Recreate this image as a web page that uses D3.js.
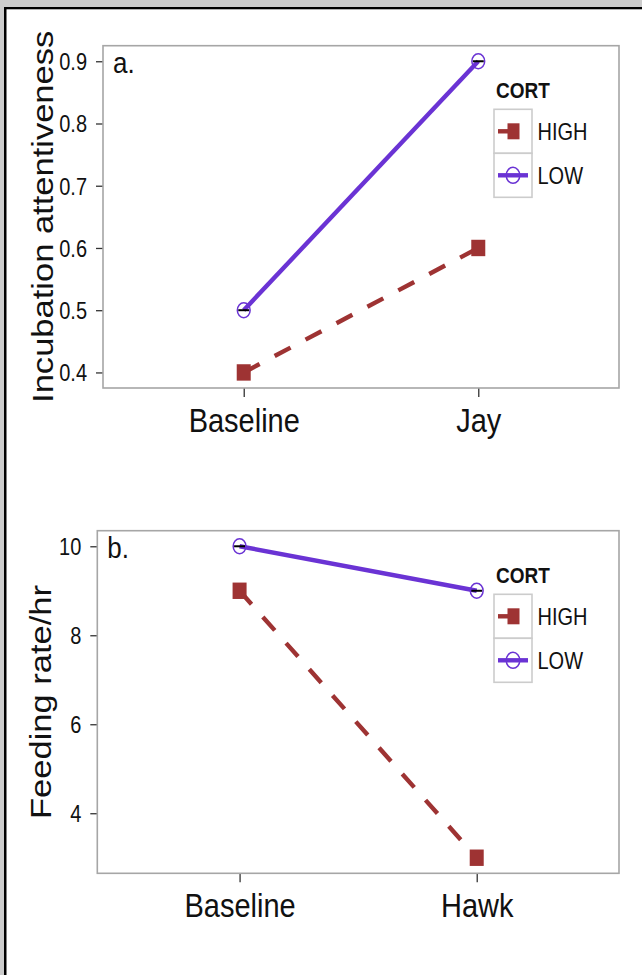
<!DOCTYPE html>
<html lang="en">
<head>
<meta charset="UTF-8">
<title>CORT interaction plots</title>
<script src="https://d3js.org/d3.v7.min.js"></script>
<style>
    body { margin: 0; padding: 0; background: #cccccc; }
    svg { display: block; }
    text { font-family: "Liberation Sans", Arial, Helvetica, sans-serif; fill: #111; }
</style>
</head>
<body>
<svg id="chart"></svg>
<script>
    // data
    const groups = ["HIGH", "LOW"];
    const catsA = ["Baseline", "Jay"];
    const highA = [0.4, 0.6];
    const lowA = [0.5, 0.9];
    const ticksA = [0.4, 0.5, 0.6, 0.7, 0.8, 0.9];

    const catsB = ["Baseline", "Hawk"];
    const highB = [9, 3];
    const lowB = [10, 9];
    const ticksB = [4, 6, 8, 10];

    const W = 642, H = 975;
    const S = 1.17; // picture is stretched vertically
    const colHigh = "#9e3333", colLow = "#6a33d4";

    const svg = d3.select("#chart").attr("width", W).attr("height", H);

    // page frame
    svg.append("rect").attr("width", W).attr("height", H).attr("fill", "#cccccc");
    svg.append("rect").attr("x", 4).attr("y", 7).attr("width", W).attr("height", H)
        .attr("fill", "#000");
    svg.append("rect").attr("x", 6.5).attr("y", 9.3).attr("width", W).attr("height", H)
        .attr("fill", "#fff");

    function stext(g, x, y, str, size, anchor) {
        return g.append("text")
            .attr("transform", `translate(${x},${y}) scale(1,${S})`)
            .attr("text-anchor", anchor || "start")
            .style("font-size", size + "px")
            .text(str);
    }

    function panel(opt) {
        const g = svg.append("g");
        const { left, right, top, bottom } = opt;

        const x = d3.scalePoint().domain(opt.cats).range([left, right]).padding(0.6);
        const lo = d3.min(opt.high.concat(opt.low)), hi = d3.max(opt.high.concat(opt.low));
        const pad = (hi - lo) * 0.05;
        const y = d3.scaleLinear().domain([lo - pad, hi + pad]).range([bottom, top]);

        // axes
        const yAxis = g.append("g").attr("transform", `translate(${left},0)`)
            .call(d3.axisLeft(y).tickValues(opt.ticks).tickSize(7).tickPadding(9)
                .tickFormat(opt.fmt));
        const xAxis = g.append("g").attr("transform", `translate(0,${bottom})`)
            .call(d3.axisBottom(x).tickSize(9));
        [yAxis, xAxis].forEach(a => {
            a.select(".domain").remove();
            a.selectAll(".tick line").attr("stroke", "#333").attr("stroke-width", 1.3);
            a.selectAll(".tick text").attr("fill", "#111");
        });
        yAxis.selectAll(".tick text")
            .style("font-size", "20px").style("font-family", "Liberation Sans, Arial, sans-serif")
            .attr("dy", "0.36em").attr("transform", `scale(1,${S})`);
        xAxis.selectAll(".tick text")
            .style("font-size", "29px").style("font-family", "Liberation Sans, Arial, sans-serif")
            .attr("y", 44 / S).attr("dy", 0).attr("transform", `scale(1,${S})`);

        // panel box
        g.append("rect").attr("x", left).attr("y", top)
            .attr("width", right - left).attr("height", bottom - top)
            .attr("fill", "none").attr("stroke", "#a6a6a6").attr("stroke-width", 1.6);

        // y title
        g.append("text")
            .attr("transform", `translate(${opt.titleX},${(top + bottom) / 2}) scale(1,${S}) rotate(-90)`)
            .attr("text-anchor", "middle")
            .style("font-size", "29.5px")
            .text(opt.title);

        stext(g, left + 10, top + 27.5, opt.tag, 26);

        const line = d3.line().x(d => x(d[0])).y(d => y(d[1]));
        const high = opt.cats.map((c, i) => [c, opt.high[i]]);
        const low = opt.cats.map((c, i) => [c, opt.low[i]]);

        g.append("path").datum(high).attr("d", line).attr("fill", "none")
            .attr("stroke", colHigh).attr("stroke-width", 4.4).attr("stroke-dasharray", "18,17");
        g.append("path").datum(low).attr("d", line).attr("fill", "none")
            .attr("stroke", colLow).attr("stroke-width", 4.4);

        // small black dashes at each point
        g.selectAll(".dash").data(high.concat(low)).join("line")
            .attr("x1", d => x(d[0]) - 5.5).attr("x2", d => x(d[0]) + 5.5)
            .attr("y1", d => y(d[1])).attr("y2", d => y(d[1]))
            .attr("stroke", "#000").attr("stroke-width", 2);

        g.selectAll(".sq").data(high).join("rect")
            .attr("x", d => x(d[0]) - 7).attr("y", d => y(d[1]) - 8.2)
            .attr("width", 14).attr("height", 16.4).attr("fill", colHigh);
        g.selectAll(".ci").data(low).join("ellipse")
            .attr("cx", d => x(d[0])).attr("cy", d => y(d[1]))
            .attr("rx", 6.4).attr("ry", 6.4 * S)
            .attr("fill", "none").attr("stroke", colLow).attr("stroke-width", 1.5);

        // legend
        const lx = 494, ly = top + 63.6, kw = 38, kh = 44;
        stext(g, 496, top + 52.6, "CORT", 19, "start").style("font-weight", "bold");
        groups.forEach((grp, i) => {
            const ky = ly + i * kh;
            g.append("rect").attr("x", lx).attr("y", ky).attr("width", kw).attr("height", kh)
                .attr("fill", "#fff").attr("stroke", "#cccccc").attr("stroke-width", 1.6);
            const cy = ky + kh / 2;
            const ln = g.append("line").attr("x1", lx + 4).attr("x2", lx + kw - 4)
                .attr("y1", cy).attr("y2", cy).attr("stroke-width", 4.4);
            if (grp === "HIGH") {
                ln.attr("stroke", colHigh).attr("stroke-dasharray", "18,17");
                g.append("rect").attr("x", lx + kw / 2 - 5.5).attr("y", cy - 8)
                    .attr("width", 12).attr("height", 16).attr("fill", colHigh);
            } else {
                ln.attr("stroke", colLow);
                g.append("ellipse").attr("cx", lx + kw / 2).attr("cy", cy)
                    .attr("rx", 6.8).attr("ry", 6.8 * S)
                    .attr("fill", "none").attr("stroke", colLow).attr("stroke-width", 1.5);
            }
            stext(g, lx + kw + 5.5, cy + 8.5, grp, 20);
        });
    }

    panel({
        left: 103, right: 619, top: 45.7, bottom: 388,
        cats: catsA, high: highA, low: lowA, ticks: ticksA, fmt: d3.format(".1f"),
        title: "Incubation attentiveness", titleX: 53, tag: "a."
    });

    panel({
        left: 97.3, right: 619, top: 530.7, bottom: 873.3,
        cats: catsB, high: highB, low: lowB, ticks: ticksB, fmt: d3.format("d"),
        title: "Feeding rate/hr", titleX: 51, tag: "b."
    });
</script>
</body>
</html>
